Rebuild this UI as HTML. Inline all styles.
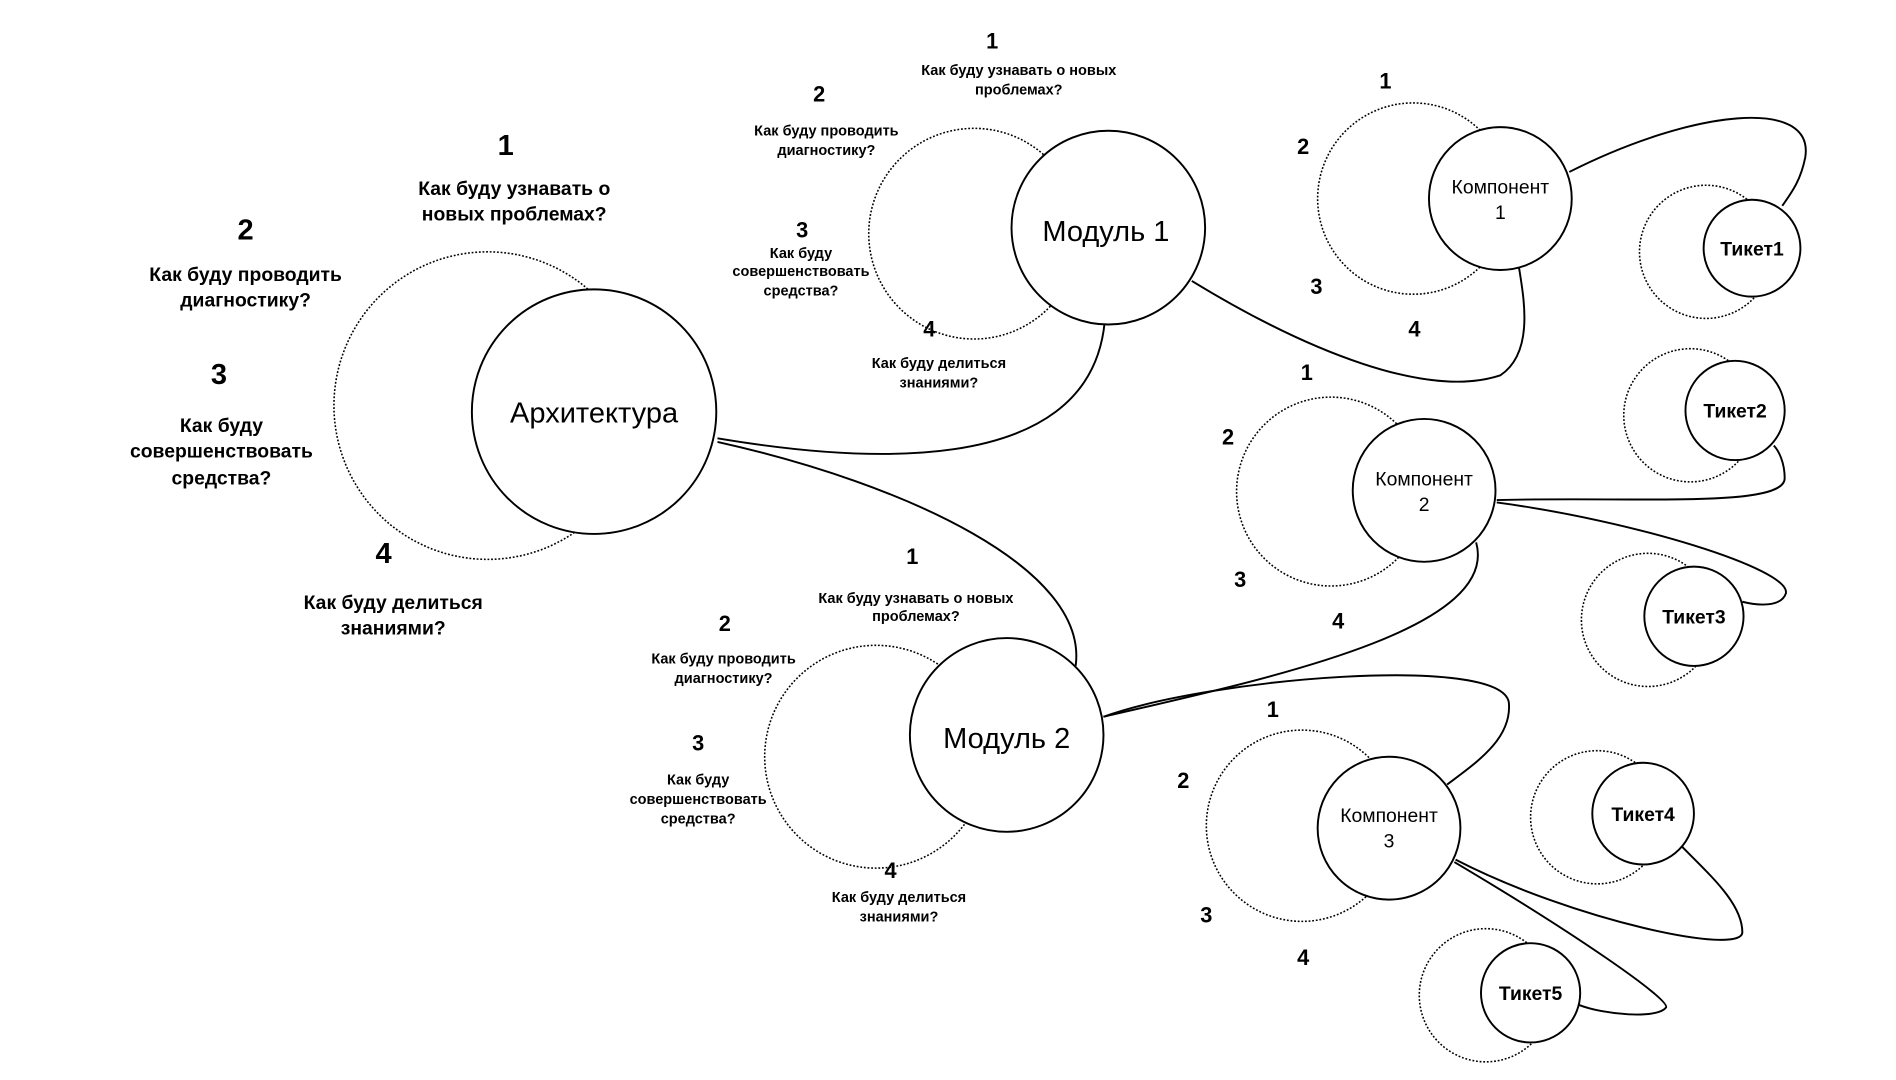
<!DOCTYPE html>
<html><head><meta charset="utf-8"><style>
html,body{margin:0;padding:0;background:#fff;width:1896px;height:1080px;overflow:hidden}
svg{display:block}
text{font-family:"Liberation Sans",sans-serif;text-anchor:middle;fill:#000}
.b{font-weight:bold}
</style></head><body>
<svg width="1896" height="1080" viewBox="0 0 1567 892" preserveAspectRatio="none">
<g fill="none" stroke="#000" stroke-width="1.6">
<path d="M593,362 C700,380 900,400 913,266"/>
<path d="M593,365 C750,400 900,470 889,550"/>
<path d="M985,232 C1080,290 1180,330 1240,310 C1270,290 1258,240 1255,218"/>
<path d="M912,592 C1050,560 1240,520 1220,448"/>
<path d="M912,592 C1000,560 1240,540 1247,580 C1250,610 1220,630 1196,648"/>
<path d="M1297,142 C1400,90 1500,80 1492,130 C1488,150 1480,160 1473,170"/>
<path d="M1237,413 C1350,410 1475,420 1475,395 C1475,382 1470,372 1466,368"/>
<path d="M1237,415 C1350,430 1480,470 1476,490 C1472,502 1452,500 1440,497"/>
<path d="M1203,710 C1300,760 1440,790 1440,770 C1440,745 1410,720 1388,697"/>
<path d="M1202,712 C1300,770 1380,825 1377,832 C1370,842 1325,838 1305,830"/>
</g>
<g fill="none" stroke="#000" stroke-width="1.3" stroke-dasharray="1.5 1.5">
<circle cx="403" cy="335" r="127"/>
<circle cx="805" cy="193" r="87"/>
<circle cx="724" cy="625" r="92"/>
<circle cx="1168" cy="164" r="79"/>
<circle cx="1410" cy="208" r="55"/>
<circle cx="1100" cy="406" r="78"/>
<circle cx="1397" cy="343" r="55"/>
<circle cx="1362" cy="512" r="55"/>
<circle cx="1076" cy="682" r="79"/>
<circle cx="1320" cy="675" r="55"/>
<circle cx="1228" cy="822" r="55"/>
</g>
<g fill="#fff" stroke="#000" stroke-width="1.6">
<circle cx="491" cy="340" r="101"/>
<circle cx="916" cy="188" r="80"/>
<circle cx="832" cy="607" r="80"/>
<circle cx="1240" cy="164" r="59"/>
<circle cx="1448" cy="205" r="40"/>
<circle cx="1177" cy="405" r="59"/>
<circle cx="1434" cy="339" r="41"/>
<circle cx="1400" cy="509" r="41"/>
<circle cx="1148" cy="684" r="59"/>
<circle cx="1358" cy="672" r="42"/>
<circle cx="1265" cy="820" r="41"/>
</g>
<text x="491" y="349" font-size="24">Архитектура</text>
<text x="914" y="199" font-size="24">Модуль 1</text>
<text x="832" y="618" font-size="24">Модуль 2</text>
<text x="1240" y="160" font-size="16">Компонент</text><text x="1240" y="181" font-size="16">1</text>
<text x="1177" y="401" font-size="16">Компонент</text><text x="1177" y="422" font-size="16">2</text>
<text x="1148" y="679" font-size="16">Компонент</text><text x="1148" y="700" font-size="16">3</text>
<text class="b" x="1448" y="211" font-size="16">Тикет1</text>
<text class="b" x="1434" y="345" font-size="16">Тикет2</text>
<text class="b" x="1400" y="515" font-size="16">Тикет3</text>
<text class="b" x="1358" y="678" font-size="16">Тикет4</text>
<text class="b" x="1265" y="826" font-size="16">Тикет5</text>
<g class="b" font-size="24">
<text class="b" x="418" y="128">1</text><text class="b" x="203" y="198">2</text><text class="b" x="181" y="317">3</text><text class="b" x="317" y="465">4</text>
</g>
<g font-size="16">
<text class="b" x="425" y="161">Как буду узнавать о</text><text class="b" x="425" y="182">новых проблемах?</text>
<text class="b" x="203" y="232">Как буду проводить</text><text class="b" x="203" y="253">диагностику?</text>
<text class="b" x="183" y="357">Как буду</text><text class="b" x="183" y="378">совершенствовать</text><text class="b" x="183" y="400">средства?</text>
<text class="b" x="325" y="503">Как буду делиться</text><text class="b" x="325" y="524">знаниями?</text>
</g>
<g font-size="18">
<text class="b" x="820" y="40">1</text><text class="b" x="677" y="84">2</text><text class="b" x="663" y="196">3</text><text class="b" x="768" y="278">4</text>
<text class="b" x="754" y="466">1</text><text class="b" x="599" y="521">2</text><text class="b" x="577" y="620">3</text><text class="b" x="736" y="725">4</text>
<text class="b" x="1145" y="73">1</text><text class="b" x="1077" y="127">2</text><text class="b" x="1088" y="243">3</text><text class="b" x="1169" y="278">4</text>
<text class="b" x="1080" y="314">1</text><text class="b" x="1015" y="367">2</text><text class="b" x="1025" y="485">3</text><text class="b" x="1106" y="519">4</text>
<text class="b" x="1052" y="592">1</text><text class="b" x="978" y="651">2</text><text class="b" x="997" y="762">3</text><text class="b" x="1077" y="797">4</text>
</g>
<g font-size="12">
<text class="b" x="842" y="62">Как буду узнавать о новых</text><text class="b" x="842" y="78">проблемах?</text>
<text class="b" x="683" y="112">Как буду проводить</text><text class="b" x="683" y="128">диагностику?</text>
<text class="b" x="662" y="213">Как буду</text><text class="b" x="662" y="228">совершенствовать</text><text class="b" x="662" y="244">средства?</text>
<text class="b" x="776" y="304">Как буду делиться</text><text class="b" x="776" y="320">знаниями?</text>
<text class="b" x="757" y="498">Как буду узнавать о новых</text><text class="b" x="757" y="513">проблемах?</text>
<text class="b" x="598" y="548">Как буду проводить</text><text class="b" x="598" y="564">диагностику?</text>
<text class="b" x="577" y="648">Как буду</text><text class="b" x="577" y="664">совершенствовать</text><text class="b" x="577" y="680">средства?</text>
<text class="b" x="743" y="745">Как буду делиться</text><text class="b" x="743" y="761">знаниями?</text>
</g>
</svg>
</body></html>
